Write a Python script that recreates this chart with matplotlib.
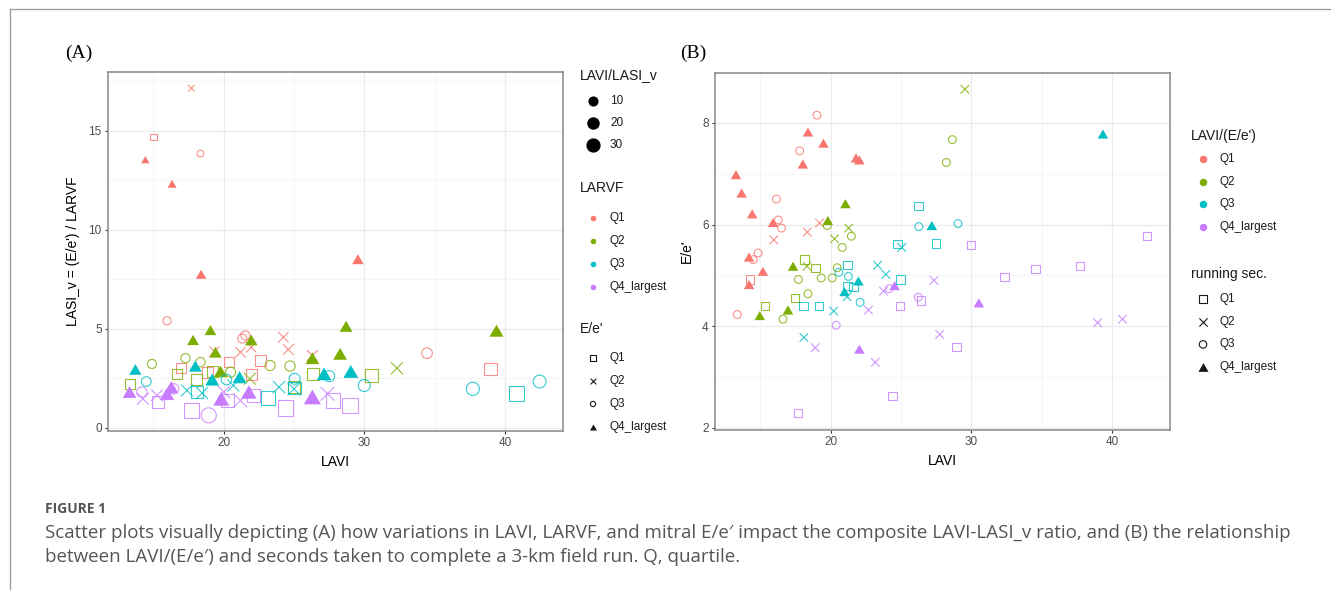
import matplotlib
matplotlib.use('Agg')
import matplotlib.pyplot as plt
from matplotlib.ticker import MultipleLocator
import numpy as np

plt.rcParams['font.family'] = ['Liberation Sans', 'DejaVu Sans']

# ---- data ----------------------------------------------------------------
quartiles = ['Q1', 'Q2', 'Q3', 'Q4_largest']
hue = ['#F8766D', '#7CAE00', '#00BFC4', '#C77CFF']

# panel A: LAVI vs LASI_v, colour = LARVF quartile, shape = E/e' quartile
a_lavi = [17.72, 15.04, 14.45, 18.36, 16.35, 18.41, 29.54, 15.99, 21.33, 21.55,
          24.25, 24.60, 21.20, 21.97, 19.36, 26.30, 16.99, 18.84, 20.38, 22.63,
          21.97, 38.95, 34.45,
          17.84, 19.07, 19.43, 21.97, 19.79, 26.31, 28.28, 28.70, 39.38, 13.38,
          16.70, 18.08, 19.20, 26.37, 25.00, 30.51, 14.92, 17.30, 18.36, 20.50,
          23.30, 24.72, 21.87, 32.31,
          13.74, 18.00, 19.20, 21.14, 27.14, 29.04, 14.52, 20.21, 27.50, 29.99,
          37.70, 42.44, 25.05, 18.13, 23.15, 40.78, 25.05, 17.40, 18.48, 20.70,
          23.94, 25.00,
          13.33, 15.99, 16.30, 19.84, 21.80, 26.31, 14.20, 16.46, 18.95, 15.33,
          17.72, 20.26, 22.11, 24.41, 27.76, 28.99, 14.28, 15.28, 20.02, 21.20,
          27.38]
a_lasi = [17.15, 14.69, 13.54, 13.85, 12.32, 7.75, 8.51, 5.40, 4.50, 4.66,
          4.57, 3.95, 3.81, 4.06, 3.85, 3.64, 3.00, 2.80, 3.31, 3.39,
          2.67, 2.97, 3.76,
          4.43, 4.93, 3.81, 4.43, 2.84, 3.51, 3.73, 5.12, 4.90, 2.21,
          2.72, 2.43, 2.84, 2.70, 2.05, 2.63, 3.22, 3.51, 3.31, 2.80,
          3.14, 3.11, 2.47, 3.00,
          2.94, 3.11, 2.43, 2.55, 2.72, 2.84, 2.33, 2.43, 2.60, 2.13,
          1.96, 2.33, 2.47, 1.80, 1.49, 1.71, 2.00, 1.88, 1.75, 2.13,
          2.05, 1.96,
          1.80, 1.71, 2.05, 1.46, 1.80, 1.55, 1.80, 1.96, 0.62, 1.29,
          0.87, 1.37, 1.63, 0.99, 1.37, 1.12, 1.46, 1.63, 1.80, 1.37,
          1.71]
a_larvf = [1] * 23 + [2] * 24 + [3] * 22 + [4] * 21
a_ee = [2, 1, 4, 3, 4, 4, 4, 3, 3, 3, 2, 2, 2, 2, 2, 2, 1, 1, 1, 1, 1, 1, 3,
        4, 4, 4, 4, 4, 4, 4, 4, 4, 1, 1, 1, 1, 1, 1, 1, 3, 3, 3, 3, 3, 3, 2, 2,
        4, 4, 4, 4, 4, 4, 3, 3, 3, 3, 3, 3, 3, 1, 1, 1, 1, 2, 2, 2, 2, 2,
        4, 4, 4, 4, 4, 4, 3, 3, 3, 1, 1, 1, 1, 1, 1, 1, 2, 2, 2, 2, 2]
size_breaks = [10, 20, 30]

# panel B: LAVI vs E/e', colour = LAVI/(E/e') quartile, shape = running sec. quartile
b_lavi = [13.29, 13.69, 14.44, 15.92, 14.22, 14.22, 15.20, 18.04, 18.40, 19.50,
          21.81, 22.05, 19.04, 17.81, 16.16, 16.30, 16.52, 14.86, 14.51, 13.38,
          14.28, 15.97, 18.35, 19.22,
          14.98, 16.98, 17.34, 19.81, 21.06, 16.63, 17.72, 18.40, 19.34, 20.12,
          19.77, 20.47, 20.83, 21.48, 28.22, 28.65, 15.34, 17.48, 18.16, 18.92,
          18.33, 20.28, 21.29, 29.54,
          20.99, 21.98, 27.19, 39.34, 20.59, 21.27, 22.10, 26.27, 29.05, 18.09,
          19.18, 21.22, 21.22, 21.63, 24.76, 24.97, 26.24, 27.47, 18.11, 20.23,
          21.18, 23.34, 23.93, 25.06,
          22.05, 24.55, 30.53, 20.40, 24.17, 26.24, 17.69, 24.40, 24.92, 26.41,
          28.93, 29.99, 32.35, 34.54, 37.72, 42.47, 18.92, 22.69, 23.18, 23.77,
          27.35, 27.75, 38.96, 40.73]
b_ee = [6.98, 6.62, 6.21, 6.04, 5.36, 4.82, 5.08, 7.19, 7.82, 7.60,
        7.31, 7.27, 8.15, 7.45, 6.50, 6.09, 5.93, 5.44, 5.31, 4.23,
        4.92, 5.70, 5.85, 6.03,
        4.21, 4.32, 5.18, 6.08, 6.41, 4.14, 4.92, 4.64, 4.95, 4.95,
        5.98, 5.15, 5.55, 5.77, 7.22, 7.67, 4.40, 4.55, 5.31, 5.15,
        5.18, 5.72, 5.93, 8.66,
        4.68, 4.89, 5.98, 7.78, 5.06, 4.98, 4.47, 5.96, 6.02, 4.40,
        4.40, 5.20, 4.79, 4.77, 5.62, 4.92, 6.37, 5.63, 3.78, 4.30,
        4.58, 5.20, 5.02, 5.55,
        3.55, 4.80, 4.46, 4.02, 4.74, 4.57, 2.29, 2.63, 4.40, 4.51,
        3.59, 5.60, 4.97, 5.13, 5.18, 5.78, 3.58, 4.32, 3.29, 4.69,
        4.90, 3.84, 4.07, 4.14]
b_ratio = [1] * 24 + [2] * 24 + [3] * 24 + [4] * 24
b_run = [4] * 12 + [3] * 8 + [1] + [2] * 3 + \
        [4] * 5 + [3] * 11 + [1] * 4 + [2] * 4 + \
        [4] * 4 + [3] * 5 + [1] * 9 + [2] * 6 + \
        [4] * 3 + [3] * 3 + [1] * 10 + [2] * 8

caption_1 = ("Scatter plots visually depicting (A) how variations in LAVI, LARVF, and mitral E/e\u2032 "
             "impact the composite LAVI-LASI_v ratio, and (B) the relationship")
caption_2 = "between LAVI/(E/e\u2032) and seconds taken to complete a 3-km field run. Q, quartile."

# ---- helpers -------------------------------------------------------------
PX = 0.72  # points per pixel at dpi 100
TRI = [(0, 0.433), (-0.5, -0.433), (0.5, -0.433)]
MARK = {1: 's', 2: 'x', 3: 'o', 4: TRI}
FACT = {1: 1.08, 2: 1.1, 3: 1.0, 4: 1.35}


def size_px(ratio):
    # ggplot-like area scale, range 1..6 mm, limits 1..31
    r = np.clip((np.asarray(ratio) - 1) / 30.0, 0, 1)
    mm = 1 + 5 * np.sqrt(r)
    return 1.88 * mm + 3.9


def draw_points(ax, x, y, col, shp, diam):
    x, y, col, shp, diam = map(np.asarray, (x, y, col, shp, diam))
    for c in range(1, 5):
        for s in range(1, 5):
            m = (col == c) & (shp == s)
            if not m.any():
                continue
            area = (diam[m] * FACT[s] * PX) ** 2
            if s == 4:
                ax.scatter(x[m], y[m], s=area, marker=MARK[s], color=hue[c - 1],
                           linewidths=0, zorder=3)
            elif s == 2:
                ax.scatter(x[m], y[m], s=area, marker='x', color=hue[c - 1],
                           linewidths=0.8, alpha=0.8, zorder=3)
            else:
                ax.scatter(x[m], y[m], s=area, marker=MARK[s], facecolors='none',
                           edgecolors=hue[c - 1], linewidths=0.8, alpha=0.8, zorder=3)


def style_axes(ax, ymaj, ymin):
    ax.set_facecolor('white')
    ax.xaxis.set_major_locator(MultipleLocator(10))
    ax.xaxis.set_minor_locator(MultipleLocator(5))
    ax.yaxis.set_major_locator(MultipleLocator(ymaj))
    ax.yaxis.set_minor_locator(MultipleLocator(ymin))
    ax.grid(which='major', color='#EBEBEB', lw=0.9)
    ax.grid(which='minor', color='#F2F2F2', lw=0.5)
    ax.set_axisbelow(True)
    ax.tick_params(which='major', length=2.5, width=0.8, color='#333333',
                   labelsize=8.5, labelcolor='#4D4D4D', pad=2)
    ax.tick_params(which='minor', length=0)
    for sp in ax.spines.values():
        sp.set_color('#888888')
        sp.set_linewidth(1.1)


# ---- figure --------------------------------------------------------------
fig = plt.figure(figsize=(13.31, 5.90), dpi=100)
W, H = 1331, 590

axA = fig.add_axes([108 / W, 1 - 431 / H, 455 / W, 359 / H])
axB = fig.add_axes([715 / W, 1 - 430 / H, 455 / W, 357 / H])

a_ratio = np.array(a_lavi) / np.array(a_lasi)
draw_points(axA, a_lavi, a_lasi, a_larvf, a_ee, size_px(a_ratio))
axA.set_xlim(11.8, 44.1)
axA.set_ylim(-0.17, 17.97)
style_axes(axA, 5, 2.5)
axA.set_xlabel('LAVI', fontsize=10, labelpad=4)
axA.set_ylabel("LASI_v = (E/e') / LARVF", fontsize=10, labelpad=6)

draw_points(axB, b_lavi, b_ee, b_ratio, b_run, [7.8] * len(b_lavi))
axB.set_xlim(11.8, 44.1)
axB.set_ylim(1.96, 8.98)
style_axes(axB, 2, 1)
axB.set_xlabel('LAVI', fontsize=10, labelpad=4)
axB.set_ylabel("E/e'", fontsize=10, labelpad=6)

# overlay in pixel coordinates for legends, panel tags, caption, frame
ov = fig.add_axes([0, 0, 1, 1], zorder=-1)
ov.set_xlim(0, W)
ov.set_ylim(H, 0)
ov.axis('off')
ov.plot([10, W], [8.5, 8.5], color='#999999', lw=0.9)
ov.plot([10, 10], [8.5, H], color='#999999', lw=0.9)

lay = fig.add_axes([0, 0, 1, 1], zorder=5)
lay.set_xlim(0, W)
lay.set_ylim(H, 0)
lay.axis('off')
lay.patch.set_alpha(0)

serif = ['Liberation Serif', 'DejaVu Serif']
lay.text(65, 53, '(A)', family=serif, fontsize=14, va='center', ha='left')
lay.text(680, 53, '(B)', family=serif, fontsize=14, va='center', ha='left')

tkw = dict(fontsize=10, va='center', ha='left', color='#1A1A1A')
lkw = dict(fontsize=8.5, va='center', ha='left', color='#1A1A1A')


def legend_shape(x, y, s, d, color):
    area = (d * FACT[s] * PX) ** 2
    if s == 4:
        lay.scatter([x], [y], s=area, marker=TRI, color=color, linewidths=0)
    elif s == 2:
        lay.scatter([x], [y], s=area, marker='x', color=color, linewidths=0.8)
    else:
        lay.scatter([x], [y], s=area, marker=MARK[s], facecolors='none',
                    edgecolors=color, linewidths=0.8)


# legend A
lay.text(580, 75, 'LAVI/LASI_v', **tkw)
for i, b in enumerate(size_breaks):
    yy = 101 + i * 22
    lay.scatter([593], [yy], s=((size_px(b) - 0.8) * PX) ** 2, color='black', linewidths=0)
    lay.text(610, yy, str(b), **lkw)
lay.text(580, 188, 'LARVF', **tkw)
for i, q in enumerate(quartiles):
    yy = 218 + i * 23
    lay.scatter([593], [yy], s=(5.5 * PX) ** 2, color=hue[i], linewidths=0)
    lay.text(610, yy, q, **lkw)
lay.text(580, 329, "E/e'", **tkw)
for i, q in enumerate(quartiles):
    yy = 358 + i * 23
    legend_shape(593, yy, i + 1, 5.2, '#1A1A1A')
    lay.text(610, yy, q, **lkw)

# legend B
lay.text(1191, 136, "LAVI/(E/e')", **tkw)
for i, q in enumerate(quartiles):
    yy = 159 + i * 22.7
    lay.scatter([1203], [yy], s=(7.5 * PX) ** 2, color=hue[i], linewidths=0)
    lay.text(1220, yy, q, **lkw)
lay.text(1191, 274, 'running sec.', **tkw)
for i, q in enumerate(quartiles):
    yy = 299 + i * 22.7
    legend_shape(1203, yy, i + 1, 7.5, '#1A1A1A')
    lay.text(1220, yy, q, **lkw)

# caption
cap = ['Open Sans', 'DejaVu Sans']
lay.text(45, 509, 'FIGURE 1', family=cap, fontsize=10, fontweight='bold',
         color='#555555', va='center', ha='left')
lay.text(45, 533, caption_1, family=cap, fontsize=13.5, color='#555555',
         va='center', ha='left')
lay.text(45, 557, caption_2, family=cap, fontsize=13.5, color='#555555',
         va='center', ha='left')

fig.savefig('out.png', dpi=100)
